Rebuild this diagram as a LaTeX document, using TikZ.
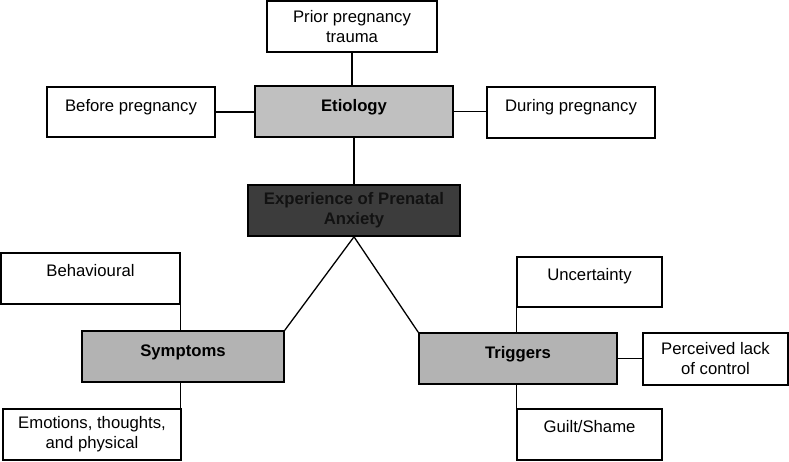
\documentclass[tikz,border=0pt]{standalone}
\usepackage{fontspec}
\setmainfont{Liberation Sans}
\definecolor{etiofill}{HTML}{C0C0C0}
\definecolor{subfill}{HTML}{B3B3B3}
\definecolor{expfill}{HTML}{3C3C3C}
\definecolor{exptext}{HTML}{121212}
\tikzset{
  box/.style={draw=black, line width=1.6pt, inner sep=0pt, align=center,
    font=\fontsize{16.7}{20}\selectfont, fill=white},
  topline/.style 2 args={text height=#1, text depth=#2},
  twoline/.style={minimum height=#1},
  boldtext/.style={font=\fontsize{16.7}{20}\selectfont\bfseries},
  conn/.style={draw=black, line width=1.3pt},
}
\begin{document}
\begin{tikzpicture}[x=1pt, y=-1pt]
\useasboundingbox (0,0) rectangle (789,461);
% top row
\node[box, minimum width=170pt, twoline=51pt] (prior) at (352,26.5) {Prior pregnancy\\trauma};
\node[box, fill=etiofill, minimum width=198pt, topline={25pt}{26pt}, boldtext] (etio) at (354,111.5) {Etiology};
\node[box, minimum width=168pt, topline={24pt}{26pt}] (before) at (131,112) {Before pregnancy};
\node[box, minimum width=168pt, topline={24pt}{27pt}] (during) at (571,112.5) {During pregnancy};
% centre
\node[box, fill=expfill, text=exptext, minimum width=212pt, twoline=51pt, boldtext] (exp) at (354,210.5) {Experience of Prenatal\\Anxiety};
% symptoms
\node[box, minimum width=179pt, topline={23.5pt}{27.5pt}] (beh) at (90.5,278.5) {Behavioural};
\node[box, fill=subfill, minimum width=202pt, topline={25pt}{26pt}, boldtext] (symp) at (183,356.5) {Symptoms};
\node[box, minimum width=178pt, twoline=51pt] (emo) at (92,434.5) {Emotions, thoughts,\\and physical};
% triggers
\node[box, minimum width=145pt, topline={23.5pt}{26.5pt}] (unc) at (589.5,282) {Uncertainty};
\node[box, fill=subfill, minimum width=198pt, topline={25pt}{26pt}, boldtext] (trig) at (518,358.5) {Triggers};
\node[box, minimum width=145pt, twoline=52pt] (perc) at (715.5,359) {Perceived lack\\of control};
\node[box, minimum width=145pt, topline={23.5pt}{27.5pt}] (guilt) at (589.5,434.5) {Guilt/Shame};
% connectors
\draw[conn] (prior.south) -- (prior.south |- etio.north);
\draw[conn] (before.east) -- (before.east -| etio.west);
\draw[conn] (etio.east) -- (etio.east -| during.west);
\draw[conn] (etio.south) -- (exp.north);
\draw[conn] (symp.north east) -- (exp.south) -- (trig.north west);
\draw[conn] (beh.south east) -- (beh.south east |- symp.north);
\draw[conn] (beh.east |- symp.south) -- (beh.east |- emo.north);
\draw[conn] (unc.south west) -- (unc.south west |- trig.north);
\draw[conn] (unc.west |- trig.south) -- (unc.west |- guilt.north);
\draw[conn] (trig.east) -- (trig.east -| perc.west);
\end{tikzpicture}
\end{document}
